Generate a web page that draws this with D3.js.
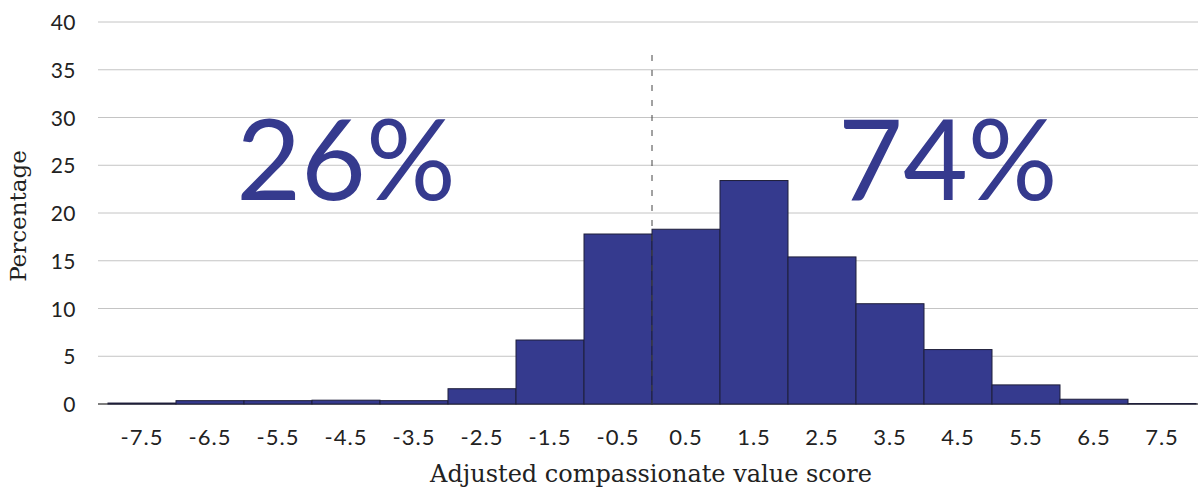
<!DOCTYPE html>
<html>
<head>
<meta charset="utf-8">
<script src="https://cdn.jsdelivr.net/npm/d3@7"></script>
<style>
  body { margin: 0; background: #fff; }
</style>
</head>
<body>
<svg width="1198" height="488"></svg>
<script>
// histogram bins: lower edge of each bin (width 1) and percentage in it
const bin_start = [-8, -7, -6, -5, -4, -3, -2, -1, 0, 1, 2, 3, 4, 5, 6, 7]
const values = [0.1, 0.35, 0.35, 0.4, 0.35, 1.6, 6.7, 17.8, 18.3, 23.4, 15.4, 10.5, 5.7, 2.0, 0.5, 0.05]
const x_ticks = [-7.5, -6.5, -5.5, -4.5, -3.5, -2.5, -1.5, -0.5, 0.5, 1.5, 2.5, 3.5, 4.5, 5.5, 6.5, 7.5]
const y_ticks = [0, 5, 10, 15, 20, 25, 30, 35, 40]
const share_labels = ['26%', '74%']
const share_pos = [-4.5, 4.35]   // x value where each share label is centred

const bar_color = '#353a8e',
    grid_color = '#c4c4c4'

const svg = d3.select("svg"),
    width = +svg.attr("width"),
    height = +svg.attr("height")

const x = d3.scaleLinear()
    .domain([-8, 8])
    .range([108, 1196])
const y = d3.scaleLinear()
    .domain([0, 40])
    .range([404, 22])

// gridlines
svg.selectAll('line.grid')
    .data(y_ticks)
    .enter().append('line')
    .attr('x1', 98)
    .attr('x2', width)
    .attr('y1', (d) => y(d))
    .attr('y2', (d) => y(d))
    .style('stroke', (d) => d === 0 ? '#555' : grid_color)
    .style('stroke-width', (d) => d === 0 ? 1.3 : 1)

// y tick labels
svg.selectAll('text.ytick')
    .data(y_ticks)
    .enter().append('text')
    .attr('x', 76)
    .attr('y', (d) => y(d) + 8)
    .attr('text-anchor', 'end')
    .style('font-family', 'Lato, sans-serif')
    .style('font-size', '21px')
    .style('letter-spacing', '0.5px')
    .style('fill', '#222')
    .text((d) => d)

// bars
svg.selectAll('rect.bar')
    .data(values)
    .enter().append('rect')
    .attr('x', (d, i) => x(bin_start[i]))
    .attr('y', (d) => y(d))
    .attr('width', (d, i) => x(bin_start[i] + 1) - x(bin_start[i]))
    .attr('height', (d) => y(0) - y(d))
    .style('fill', (d, i) => i === 0 ? '#222' : bar_color)
    .style('stroke', '#1e1e3a')
    .style('stroke-width', 1)

// dashed divider at zero
svg.append('line')
    .attr('x1', x(0))
    .attr('x2', x(0))
    .attr('y1', 55)
    .attr('y2', y(0))
    .style('stroke', '#444')
    .style('stroke-width', 1)
    .style('stroke-dasharray', '6,9')

// x tick labels
svg.selectAll('text.xtick')
    .data(x_ticks)
    .enter().append('text')
    .attr('x', (d) => x(d))
    .attr('y', 445)
    .attr('text-anchor', 'middle')
    .style('font-family', 'Lato, sans-serif')
    .style('font-size', '22px')
    .style('letter-spacing', '1px')
    .style('fill', '#222')
    .text((d) => d)

// big share labels
svg.selectAll('text.share')
    .data(share_labels)
    .enter().append('text')
    .attr('x', (d, i) => x(share_pos[i]))
    .attr('y', 200)
    .attr('text-anchor', 'middle')
    .style('font-family', 'Lato, sans-serif')
    .style('font-weight', 400)
    .style('font-size', '112px')
    .style('fill', bar_color)
    .text((d) => d)

// axis titles
svg.append('text')
    .attr('x', 651)
    .attr('y', 482)
    .attr('text-anchor', 'middle')
    .style('font-family', '"DejaVu Serif", serif')
    .style('font-size', '24px')
    .style('fill', '#222')
    .text('Adjusted compassionate value score')

svg.append('text')
    .attr('transform', 'translate(26,216)rotate(-90)')
    .attr('text-anchor', 'middle')
    .style('font-family', '"DejaVu Serif", serif')
    .style('font-size', '23px')
    .style('fill', '#222')
    .text('Percentage')
</script>
</body>
</html>
